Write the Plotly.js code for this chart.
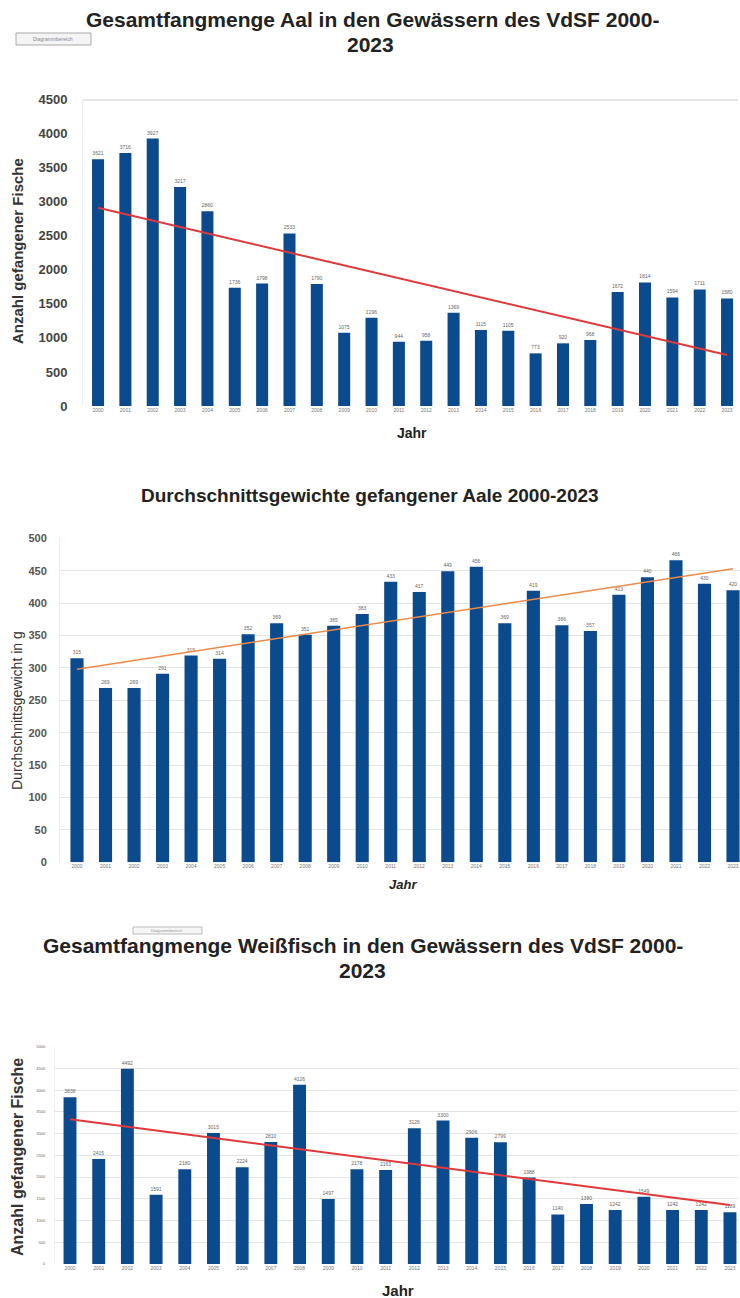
<!DOCTYPE html>
<html>
<head>
<meta charset="utf-8">
<script src="https://cdn.plot.ly/plotly-3.0.1.min.js"></script>
<style>html,body{margin:0;padding:0;background:#fff;}#chart{width:740px;height:1298px;}</style>
</head>
<body>
<div id="chart"></div>
<script>
const years = ['2000','2001','2002','2003','2004','2005','2006','2007','2008','2009','2010','2011','2012','2013','2014','2015','2016','2017','2018','2019','2020','2021','2022','2023'];
const aalCatch = [3621,3716,3927,3217,2860,1736,1798,2533,1790,1075,1296,944,958,1369,1115,1105,773,920,968,1672,1814,1594,1711,1580];
const aalWeight = [315,269,269,291,319,314,352,369,351,365,383,433,417,449,456,369,419,366,357,413,440,466,430,420];
const whitefishCatch = [3838,2415,4492,1591,2180,3015,2224,2810,4126,1497,2178,2163,3126,3300,2906,2799,1988,1140,1380,1242,1549,1242,1242,1189];
const trendYears = ['2000','2023'];
const aalTrend = [2910,750];
const weightTrend = [298,453];
const whitefishTrend = [3330,1357];

const W = 740, H = 1298;
const px = v => v / W;
const py = v => 1 - v / H;
const BLUE = '#0b4a8c';
const FONT = 'Liberation Sans, Arial, sans-serif';

function bars(y, xa, ya, w) {
  return {type:'bar', x: years, y: y, xaxis: xa, yaxis: ya, width: w,
    marker:{color: BLUE}, text: y.map(String), textposition:'outside',
    textfont:{size:5, color:'#666', family: FONT}, cliponaxis:false, hoverinfo:'x+y', showlegend:false};
}
function trend(y, xa, ya, color, w) {
  return {type:'scatter', mode:'lines', x: trendYears, y: y, xaxis: xa, yaxis: ya,
    line:{color: color, width: w}, showlegend:false, hoverinfo:'skip'};
}

const data = [
  bars(aalCatch, 'x', 'y', 0.44), trend(aalTrend, 'x', 'y', '#e0393b', 2),
  bars(aalWeight, 'x2', 'y2', 0.46), trend(weightTrend, 'x2', 'y2', '#ec8a4a', 1.5),
  bars(whitefishCatch, 'x3', 'y3', 0.45), trend(whitefishTrend, 'x3', 'y3', '#e0393b', 2)
];

const xbase = {type:'category', showgrid:false, zeroline:false, ticks:'', showline:false,
  tickfont:{size:5, color:'#777', family: FONT}, tickangle:0, fixedrange:true};

const layout = {
  width: W, height: H, margin:{l:0,r:0,t:0,b:0}, paper_bgcolor:'#fff', plot_bgcolor:'rgba(0,0,0,0)',
  font:{family: FONT}, showlegend:false, bargap:0.5,
  xaxis: Object.assign({}, xbase, {domain:[px(83), px(738)], range:[-0.55, 23.4], anchor:'y'}),
  yaxis: {domain:[py(406), py(99.5)], range:[0,4500], dtick:500, showgrid:false, zeroline:false,
    showline:true, linecolor:'#eee', linewidth:1, ticks:'', ticklabelstandoff:12,
    tickfont:{size:13, color:'#444', family: FONT, weight:'bold'}, anchor:'x'},
  xaxis2: Object.assign({}, xbase, {domain:[px(60), px(740)], range:[-0.596, 23.245], anchor:'y2'}),
  yaxis2: {domain:[py(862.3), py(538.3)], range:[0,500], dtick:50, showgrid:true, gridcolor:'#e4e4e4', gridwidth:1,
    zeroline:false, showline:true, linecolor:'#eee', ticks:'', ticklabelstandoff:10,
    tickfont:{size:11, color:'#555', family: FONT, weight:'bold'}, anchor:'x2'},
  xaxis3: Object.assign({}, xbase, {domain:[px(55), px(738)], range:[-0.523, 23.28], anchor:'y3'}),
  yaxis3: {domain:[py(1264), py(1046.7)], range:[0,5000], dtick:500, showgrid:true, gridcolor:'#e4e4e4', gridwidth:1,
    zeroline:false, showline:true, linecolor:'#eee', ticks:'', ticklabelstandoff:8,
    tickfont:{size:4, color:'#666', family: FONT}, anchor:'x3'},
  shapes: [
    {type:'line', xref:'paper', yref:'paper', x0:px(83), x1:px(738), y0:py(100), y1:py(100), line:{color:'#e6e6e6', width:2}},
    {type:'rect', xref:'paper', yref:'paper', x0:px(16), x1:px(91), y0:py(45), y1:py(33), line:{color:'#aaa', width:1}, fillcolor:'#f4f4f4'},
    {type:'rect', xref:'paper', yref:'paper', x0:px(133), x1:px(202), y0:py(934), y1:py(927), line:{color:'#bbb', width:1}, fillcolor:'#f6f6f6'}
  ],
  annotations: [
    {xref:'paper', yref:'paper', x:px(373), y:py(19), text:'<b>Gesamtfangmenge Aal in den Gewässern des VdSF 2000-</b>', showarrow:false, font:{size:21, color:'#222'}, xanchor:'center', yanchor:'middle'},
    {xref:'paper', yref:'paper', x:px(370), y:py(44), text:'<b>2023</b>', showarrow:false, font:{size:21, color:'#222'}, xanchor:'center', yanchor:'middle'},
    {xref:'paper', yref:'paper', x:px(53), y:py(39), text:'Diagrammbereich', showarrow:false, font:{size:5, color:'#888'}, xanchor:'center', yanchor:'middle'},
    {xref:'paper', yref:'paper', x:px(17), y:py(251), text:'<b>Anzahl gefangener Fische</b>', textangle:-90, showarrow:false, font:{size:15, color:'#333'}, xanchor:'center', yanchor:'middle'},
    {xref:'paper', yref:'paper', x:px(412), y:py(433), text:'<b>Jahr</b>', showarrow:false, font:{size:14, color:'#222'}, xanchor:'center', yanchor:'middle'},

    {xref:'paper', yref:'paper', x:px(370), y:py(495), text:'<b>Durchschnittsgewichte gefangener Aale 2000-2023</b>', showarrow:false, font:{size:19, color:'#222'}, xanchor:'center', yanchor:'middle'},
    {xref:'paper', yref:'paper', x:px(17), y:py(711), text:'Durchschnittsgewicht in g', textangle:-90, showarrow:false, font:{size:14, color:'#333'}, xanchor:'center', yanchor:'middle'},
    {xref:'paper', yref:'paper', x:px(403), y:py(884), text:'<b><i>Jahr</i></b>', showarrow:false, font:{size:13, color:'#222'}, xanchor:'center', yanchor:'middle'},

    {xref:'paper', yref:'paper', x:px(363), y:py(945), text:'<b>Gesamtfangmenge Weißfisch in den Gewässern des VdSF 2000-</b>', showarrow:false, font:{size:21, color:'#222'}, xanchor:'center', yanchor:'middle'},
    {xref:'paper', yref:'paper', x:px(362), y:py(970), text:'<b>2023</b>', showarrow:false, font:{size:21, color:'#222'}, xanchor:'center', yanchor:'middle'},
    {xref:'paper', yref:'paper', x:px(167), y:py(930.5), text:'Diagrammbereich', showarrow:false, font:{size:4, color:'#999'}, xanchor:'center', yanchor:'middle'},
    {xref:'paper', yref:'paper', x:px(17), y:py(1157), text:'<b>Anzahl gefangener Fische</b>', textangle:-90, showarrow:false, font:{size:16, color:'#333'}, xanchor:'center', yanchor:'middle'},
    {xref:'paper', yref:'paper', x:px(398), y:py(1290), text:'<b>Jahr</b>', showarrow:false, font:{size:15, color:'#222'}, xanchor:'center', yanchor:'middle'}
  ]
};

Plotly.newPlot('chart', data, layout, {staticPlot:true, displayModeBar:false});
</script>
</body>
</html>
